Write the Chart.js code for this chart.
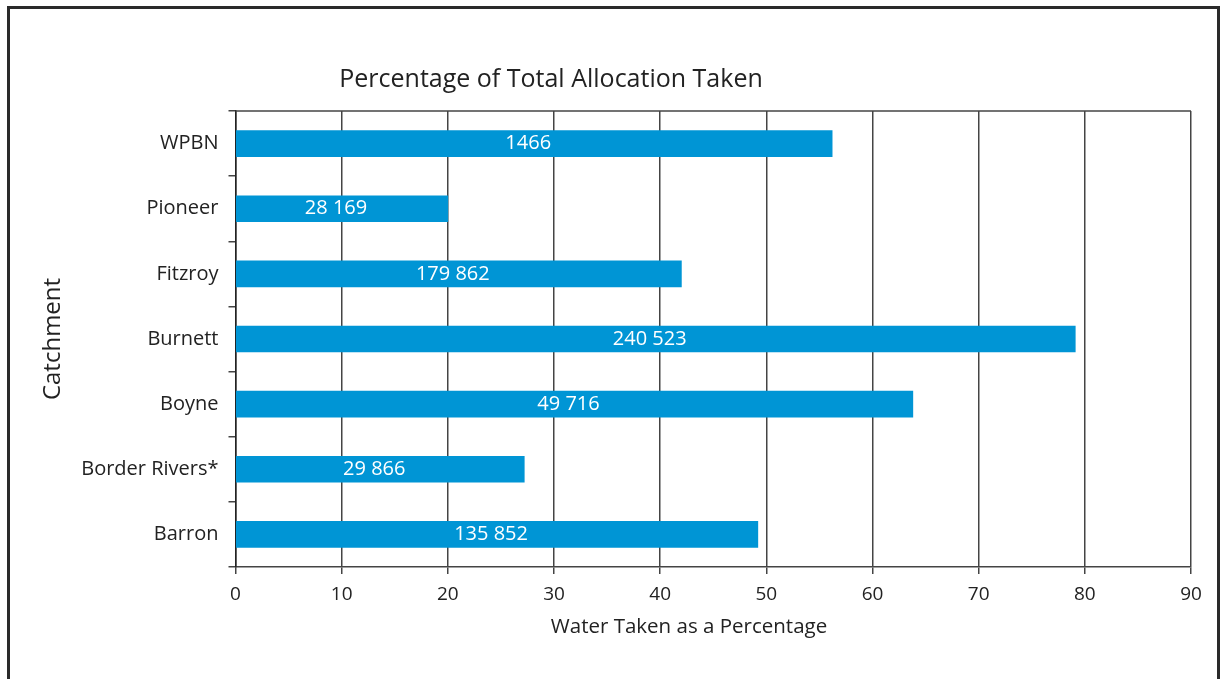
<!DOCTYPE html>
<html>
<head>
<meta charset="utf-8">
<script src="https://cdn.jsdelivr.net/npm/chart.js@4/dist/chart.umd.min.js"></script>
<style>
  html, body { margin: 0; padding: 0; background: #fff; }
  body { width: 1230px; height: 679px; overflow: hidden; position: relative; }
  #frame { position: absolute; left: 7px; top: 6px; width: 1213px; height: 700px; border: 3px solid #2a2a2a; box-sizing: border-box; }
  #wrap { position: absolute; left: 0; top: 0; width: 1230px; height: 679px; }
</style>
</head>
<body>
<div id="frame"></div>
<div id="wrap"><canvas id="myChart"></canvas></div>
<script>
const catchments = ["WPBN", "Pioneer", "Fitzroy", "Burnett", "Boyne", "Border Rivers*", "Barron"]
const percentTaken = [56.2, 20.0, 42.0, 79.1, 63.8, 27.2, 49.2]
const volumeLabels = ["1466", "28 169", "179 862", "240 523", "49 716", "29 866", "135 852"]
const xTicks = [0, 10, 20, 30, 40, 50, 60, 70, 80, 90]

const fontName = "'Open Sans', 'Noto Sans', sans-serif"
const textColor = "#222"
const barColor = "#0095d5"

var ctx = document.getElementById('myChart').getContext('2d')

// text inside bars, title, x axis title, top frame line
const extras = {
    id: 'extras',
    afterDatasetsDraw(chart) {
        const c = chart.ctx
        const meta = chart.getDatasetMeta(0)
        c.save()
        c.fillStyle = "#fff"
        c.font = "20px " + fontName
        c.textAlign = "center"
        c.textBaseline = "middle"
        meta.data.forEach((bar, i) => {
            const mid = (bar.x + bar.base) / 2 - 6
            c.fillText(volumeLabels[i], mid, bar.y)
        })
        c.restore()
    },
    afterDraw(chart) {
        const c = chart.ctx
        const area = chart.chartArea
        c.save()
        c.strokeStyle = "#444"
        c.lineWidth = 1.5
        c.beginPath()
        c.moveTo(area.left, area.top)
        c.lineTo(area.right, area.top)
        c.stroke()

        c.fillStyle = textColor
        c.textAlign = "center"
        c.textBaseline = "middle"
        c.font = "25px " + fontName
        c.fillText("Percentage of Total Allocation Taken", 551, 80)
        c.font = "20.5px " + fontName
        c.fillText("Water Taken as a Percentage", 689, 627)
        c.restore()
    }
}

let myChart = new Chart(ctx, {
    type: 'bar',
    data: {
        labels: catchments,
        datasets: [{
            data: percentTaken,
            backgroundColor: barColor,
            borderWidth: 0,
            barThickness: 26
        }]
    },
    options: {
        indexAxis: 'y',
        responsive: true,
        maintainAspectRatio: false,
        animation: false,
        layout: { padding: { left: 30, right: 39, top: 111, bottom: 33 } },
        plugins: {
            legend: { display: false },
            tooltip: { enabled: false }
        },
        scales: {
            x: {
                min: 0,
                max: 90,
                afterBuildTicks: (scale) => { scale.ticks = xTicks.map(v => ({ value: v })) },
                afterFit: (scale) => { scale.height = 79 },
                grid: { color: "#444", lineWidth: 1.5, tickLength: 7 },
                border: { color: "#444", width: 1.5 },
                ticks: { color: textColor, font: { family: fontName, size: 19 }, padding: 9 }
            },
            y: {
                offset: true,
                afterFit: (scale) => { scale.width = 205.5 },
                grid: { offset: true, drawOnChartArea: false, color: "#444", lineWidth: 1.5, tickLength: 7 },
                border: { color: "#222", width: 1.5 },
                ticks: { color: textColor, font: { family: fontName, size: 20 }, padding: 10 },
                title: {
                    display: true,
                    text: "Catchment",
                    color: textColor,
                    font: { family: fontName, size: 24 },
                    padding: { top: 9, bottom: 0 }
                }
            }
        }
    },
    plugins: [extras]
})
</script>
</body>
</html>
